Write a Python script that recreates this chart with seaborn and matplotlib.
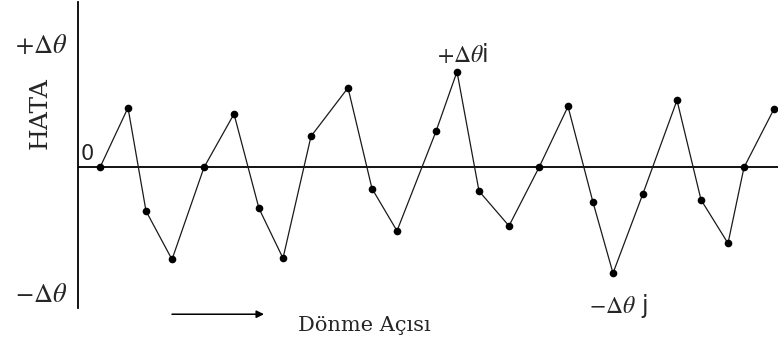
import matplotlib
matplotlib.use("Agg")
import matplotlib.pyplot as plt
import seaborn as sns
import pandas as pd

# Rotation angle (arbitrary units along the axis) and error as a fraction of Δθ
angle = [22, 50, 68, 94, 126, 156, 181, 205, 233, 270, 294, 319, 358,
         379, 401, 431, 461, 490, 515, 535, 565, 599, 623, 650, 666, 696]
error = [0.00, 0.48, -0.35, -0.74, 0.00, 0.43, -0.33, -0.73, 0.25, 0.64,
         -0.17, -0.51, 0.29, 0.77, -0.19, -0.47, 0.00, 0.49, -0.28, -0.85,
         -0.21, 0.54, -0.26, -0.61, 0.00, 0.47]
ytick_vals = [-1, 1]
ytick_labels = [r"$-\Delta\theta$", r"$+\Delta\theta$"]

sns.set_style("white")
plt.rcParams["font.family"] = ["DejaVu Serif"]
plt.rcParams["mathtext.fontset"] = "stix"

df = pd.DataFrame({"angle": angle, "error": error})

fig = plt.figure(figsize=(7.78, 3.45), dpi=100)
ax = fig.add_axes([78 / 778, 37 / 345, 700 / 778, 306 / 345])

sns.lineplot(data=df, x="angle", y="error", ax=ax, color="#1a1a1a",
             linewidth=0.9, marker="o", markersize=5.5,
             markeredgewidth=0, markerfacecolor="black")

ax.axhline(0, color="black", linewidth=1.3, zorder=1)

ax.set_xlim(0, 700)
ax.set_ylim(-1.13, 1.33)
for side in ["top", "right", "bottom"]:
    ax.spines[side].set_visible(False)
ax.spines["left"].set_linewidth(1.3)
ax.spines["left"].set_color("black")

ax.set_xticks([])
ax.set_yticks(ytick_vals)
ax.set_yticklabels(ytick_labels, fontsize=19)
ax.tick_params(axis="y", length=0, pad=8)
ax.set_xlabel("")
ax.set_ylabel("")

# Vertical axis title
fig.text(40 / 778, 1 - 113 / 345, "HATA", rotation=90, fontsize=18,
         ha="center", va="center", family="DejaVu Serif")

ax.text(3, 0.03, "0", fontsize=15, ha="left", va="bottom",
        family="DejaVu Sans", color="#222")

ax.text(384, 0.90, r"$+\Delta\theta$i", fontsize=17, family="DejaVu Sans",
        ha="center", va="center")
ax.text(540, -1.11, r"$-\Delta\theta$ j", fontsize=17, family="DejaVu Sans",
        ha="center", va="center", clip_on=False)

ax.annotate("", xy=(186, -1.18), xytext=(94, -1.18), xycoords="data",
            arrowprops=dict(arrowstyle="-|>", color="black", lw=1.1,
                            mutation_scale=11, shrinkA=0, shrinkB=0),
            annotation_clip=False)
ax.text(286, -1.27, "Dönme Açısı", fontsize=15, ha="center", va="center",
        clip_on=False)

fig.savefig("out.png", dpi=100, facecolor="white")
